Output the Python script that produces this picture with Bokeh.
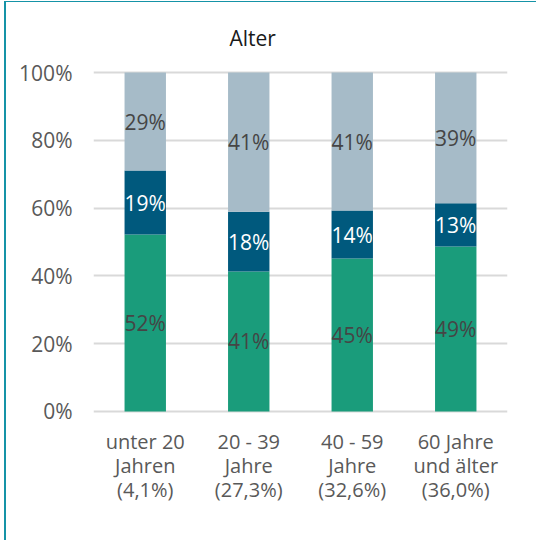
from bokeh.plotting import figure
from bokeh.models import ColumnDataSource, FactorRange, Range1d, FixedTicker, LabelSet
from bokeh.core.properties import value
from bokeh.embed import file_html
from bokeh.resources import INLINE

# ---- data ----
categories = ["unter 20\nJahren\n(4,1%)", "20 - 39\nJahre\n(27,3%)",
              "40 - 59\nJahre\n(32,6%)", "60 Jahre\nund älter\n(36,0%)"]
green_vals = [52.2, 41.3, 45.1, 48.7]
navy_vals = [18.9, 17.6, 14.2, 12.7]
grey_vals = [28.9, 41.1, 40.7, 38.6]
y_ticks = [0, 20, 40, 60, 80, 100]
y_tick_labels = ["0%", "20%", "40%", "60%", "80%", "100%"]
title_text = "Alter"

FONT = "Open Sans"
GREEN = "#1a9c7b"
NAVY = "#00597d"
GREY = "#a6bbc8"
TXT = "#595959"

src = ColumnDataSource(dict(cat=categories, green=green_vals, navy=navy_vals, grey=grey_vals))

p = figure(width=532, height=539, x_range=FactorRange(*categories, range_padding=0),
           y_range=Range1d(-0.6, 100.6), output_backend="svg", toolbar_location=None,
           min_border_left=87, min_border_right=31, min_border_top=68, min_border_bottom=128)
p.styles = {"margin-left": "4px", "margin-top": "1px",
            "border-left": "2px solid #1593a7", "border-top": "1px solid #1593a7"}

p.vbar_stack(["green", "navy", "grey"], x="cat", width=0.4, source=src,
             color=[GREEN, NAVY, GREY], line_color=None)

# labels at segment midpoints
mid_g = [g / 2 for g in green_vals]
mid_n = [g + n / 2 for g, n in zip(green_vals, navy_vals)]
mid_r = [g + n + r / 2 for g, n, r in zip(green_vals, navy_vals, grey_vals)]
lab_src = ColumnDataSource(dict(
    x=categories * 3,
    y=mid_g + mid_n + mid_r,
    t=[f"{round(v)}%" for v in green_vals + navy_vals + grey_vals],
    c=["#454545"] * 4 + ["#ffffff"] * 4 + ["#454545"] * 4,
))
p.add_layout(LabelSet(x="x", y="y", text="t", source=lab_src, text_color="c",
                      text_align="center", text_baseline="middle",
                      text_font=value(FONT), text_font_size="21px"))

p.title.text = title_text
p.title.align = "left"
p.title.offset = 136
p.title.text_font = FONT
p.title.text_font_size = "21px"
p.title.text_font_style = "normal"
p.title.text_color = "#1a1a1a"
p.title.standoff = 38

p.yaxis.ticker = FixedTicker(ticks=y_ticks)
p.yaxis.major_label_overrides = {t: l for t, l in zip(y_ticks, y_tick_labels)}
for ax in (p.xaxis, p.yaxis):
    ax.axis_line_color = None
    ax.major_tick_line_color = None
    ax.minor_tick_line_color = None
    ax.major_label_text_font = FONT
    ax.major_label_text_color = TXT
p.yaxis.major_label_text_font_size = "21px"
p.yaxis.major_label_standoff = 15
p.xaxis.major_label_text_font_size = "20px"
p.xaxis.major_label_standoff = 8
p.xaxis.major_label_text_line_height = 0.9

p.xgrid.grid_line_color = None
p.ygrid.grid_line_color = "#d9d9d9"
p.ygrid.grid_line_width = 2
p.ygrid.ticker = FixedTicker(ticks=y_ticks)
p.outline_line_color = None
p.background_fill_color = "white"
p.border_fill_color = "white"

open("out.html", "w").write(file_html(p, INLINE))
